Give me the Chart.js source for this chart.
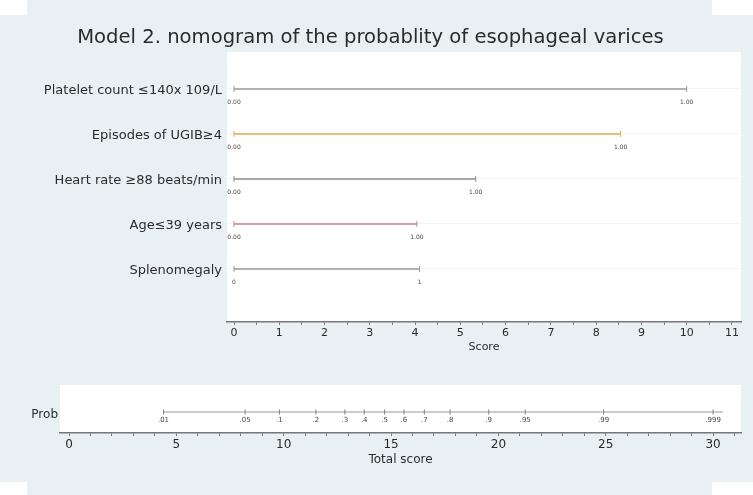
<!DOCTYPE html>
<html><head><meta charset="utf-8">
<script src="https://cdn.jsdelivr.net/npm/chart.js@4/dist/chart.umd.min.js"></script>
<style>
html,body{margin:0;padding:0;background:#fff;width:753px;height:495px;overflow:hidden;position:relative;}
.bg1{position:absolute;left:27px;top:0;width:685px;height:495px;background:#e9f0f3;}
.bg2{position:absolute;left:0;top:15px;width:753px;height:467px;background:#e9f0f3;}
canvas{position:absolute;left:0;}
#c1{top:0}
#c2{top:360px}
</style></head><body>
<div class="bg1"></div><div class="bg2"></div>
<canvas id="c1" width="753" height="358"></canvas>
<canvas id="c2" width="753" height="111"></canvas>
<script>
// ---- data ----
const titleText = 'Model 2. nomogram of the probablity of esophageal varices';
const variables = ['Platelet count \u2264140x 109/L', 'Episodes of UGIB\u22654', 'Heart rate \u226588 beats/min', 'Age\u226439 years', 'Splenomegaly'];
const maxScores = [10, 8.54, 5.34, 4.04, 4.1];
const lowLabels = ['0.00', '0.00', '0.00', '0.00', '0'];
const highLabels = ['1.00', '1.00', '1.00', '1.00', '1'];
const scoreTickLabels = ['0','1','2','3','4','5','6','7','8','9','10','11'];
const probLabels = ['.01','.05','.1','.2','.3','.4','.5','.6','.7','.8','.9','.95','.99','.999'];
const probScores = [4.4, 8.2, 9.8, 11.5, 12.85, 13.75, 14.7, 15.6, 16.55, 17.75, 19.55, 21.25, 24.9, 30.0];
const probLineEnd = 30.45;
const totalTickLabels = ['0','5','10','15','20','25','30'];

// ---- styles ----
const lineColors = ['#9a9a9a', '#dcae5a', '#8e8e8e', '#c08a8a', '#9a9a9a'];
const FONT = "'DejaVu Sans', 'Liberation Sans', Arial, sans-serif";
Chart.defaults.font.family = FONT;
Chart.defaults.color = '#2b2b2b';

const whiteArea = {
  id: 'whiteArea',
  beforeDraw(chart) {
    const a = chart.chartArea, ctx = chart.ctx;
    ctx.save(); ctx.fillStyle = '#ffffff';
    ctx.fillRect(a.left, a.top, a.right - a.left, a.bottom - a.top);
    ctx.restore();
  }
};

const valueLabels = {
  id: 'valueLabels',
  afterDatasetsDraw(chart) {
    const ctx = chart.ctx;
    ctx.save();
    ctx.font = '6px ' + FONT;
    ctx.fillStyle = '#444';
    ctx.textAlign = 'center';
    ctx.textBaseline = 'middle';
    variables.forEach((v, i) => {
      const meta = chart.getDatasetMeta(i);
      const p0 = meta.data[0], p1 = meta.data[1];
      ctx.fillText(lowLabels[i], p0.x, p0.y + 14);
      ctx.fillText(highLabels[i], p1.x, p1.y + 14);
    });
    ctx.restore();
  }
};

const topDatasets = variables.map((v, i) => ({
  label: v,
  data: [{x: 0, y: 5 - i}, {x: maxScores[i], y: 5 - i}],
  borderColor: lineColors[i],
  borderWidth: 1.5,
  pointStyle: 'line',
  rotation: 90,
  pointRadius: 3,
  pointBorderColor: lineColors[i],
  pointBorderWidth: 1,
  pointHoverRadius: 3
}));

new Chart(document.getElementById('c1'), {
  type: 'line',
  data: { datasets: topDatasets },
  options: {
    responsive: false,
    animation: false,
    events: [],
    layout: { padding: { left: 0, right: 12, top: 0, bottom: 0 } },
    plugins: {
      legend: { display: false },
      tooltip: { enabled: false },
      title: {
        display: true, text: titleText, color: '#2b2b2b',
        font: { size: 19.6, weight: 'normal', family: FONT },
        padding: { top: 26, bottom: 2.5 }
      }
    },
    scales: {
      x: {
        type: 'linear', min: -0.155, max: 11.2,
        afterBuildTicks(s) { const t = []; for (let k = 0; k <= 22; k++) t.push({value: k * 0.5}); s.ticks = t; },
        afterFit(s) { s.height = 36; },
        ticks: {
          autoSkip: false, maxRotation: 0, padding: 2,
          font: { size: 11 }, color: '#2b2b2b',
          callback: (v) => Number.isInteger(v) ? scoreTickLabels[v] : ''
        },
        grid: { display: true, drawOnChartArea: false, drawTicks: true, tickLength: 3, color: '#777' },
        border: { display: true, color: '#777', width: 1.5 },
        title: { display: true, text: 'Score', font: { size: 11 }, color: '#2b2b2b', padding: { top: 4, bottom: 4 } }
      },
      y: {
        type: 'linear', min: -0.18, max: 5.82,
        afterBuildTicks(s) { s.ticks = [1,2,3,4,5].map(v => ({value: v})); },
        afterFit(s) { s.width = 227; },
        ticks: {
          padding: 5, font: { size: 13 }, color: '#2b2b2b', labelOffset: 2,
          callback: (v) => variables[5 - v]
        },
        grid: { display: true, drawTicks: false, color: '#f1f4f5', lineWidth: 1 },
        border: { display: false }
      }
    }
  },
  plugins: [whiteArea, valueLabels]
});

const probText = {
  id: 'probText',
  afterDatasetsDraw(chart) {
    const ctx = chart.ctx;
    const meta = chart.getDatasetMeta(1);
    ctx.save();
    ctx.font = '7px ' + FONT;
    ctx.fillStyle = '#444';
    ctx.textAlign = 'center';
    ctx.textBaseline = 'middle';
    meta.data.forEach((p, i) => ctx.fillText(probLabels[i], p.x, p.y + 8));
    ctx.restore();
  }
};

new Chart(document.getElementById('c2'), {
  type: 'line',
  data: {
    datasets: [
      { data: [{x: probScores[0], y: 1}, {x: probLineEnd, y: 1}], borderColor: '#9a9a9a', borderWidth: 1.2, pointRadius: 0 },
      { data: probScores.map(s => ({x: s, y: 1})), showLine: false, pointStyle: 'line', rotation: 90,
        pointRadius: 2.5, pointBorderColor: '#777', pointBorderWidth: 1, borderColor: '#777' }
    ]
  },
  options: {
    responsive: false,
    animation: false,
    events: [],
    layout: { padding: { left: 0, right: 12, top: 25, bottom: 0 } },
    plugins: { legend: { display: false }, tooltip: { enabled: false } },
    scales: {
      x: {
        type: 'linear', min: -0.42, max: 31.3,
        afterBuildTicks(s) { const t = []; for (let k = 0; k <= 31; k++) t.push({value: k}); s.ticks = t; },
        afterFit(s) { s.height = 38; },
        ticks: {
          autoSkip: false, maxRotation: 0, padding: 2,
          font: { size: 12 }, color: '#2b2b2b',
          callback: (v) => (v % 5 === 0) ? totalTickLabels[v / 5] : ''
        },
        grid: { display: true, drawOnChartArea: false, drawTicks: true, tickLength: 3, color: '#777' },
        border: { display: true, color: '#777', width: 1.5 },
        title: { display: true, text: 'Total score', font: { size: 12 }, color: '#2b2b2b', padding: { top: 4, bottom: 4 } }
      },
      y: {
        type: 'linear', min: 0.5625, max: 1.5625,
        afterBuildTicks(s) { s.ticks = [{value: 1}]; },
        afterFit(s) { s.width = 60; },
        ticks: { padding: 2, font: { size: 12 }, color: '#2b2b2b', labelOffset: 3, callback: () => 'Prob' },
        grid: { display: false, drawTicks: false },
        border: { display: false }
      }
    }
  },
  plugins: [whiteArea, probText]
});
</script>
</body></html>
